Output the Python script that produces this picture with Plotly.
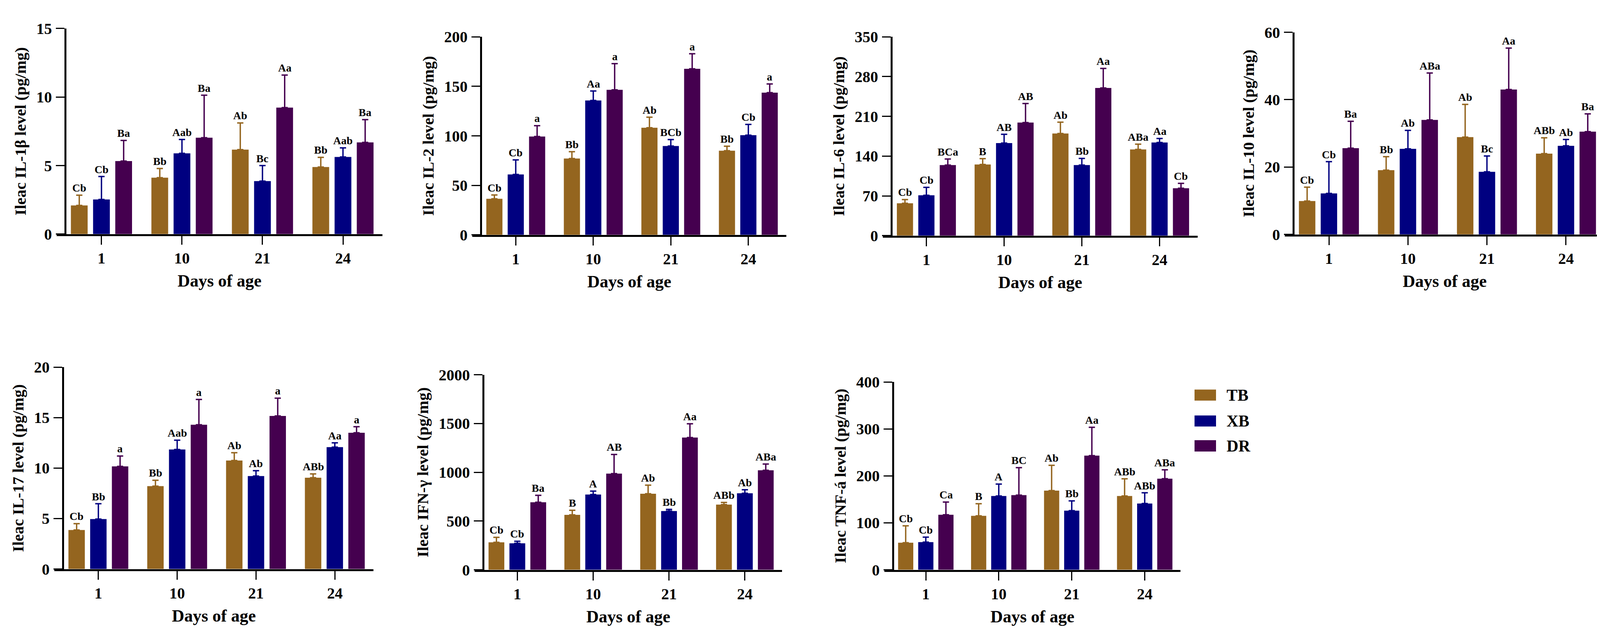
import plotly.graph_objects as go

# ---------------- data ----------------
days = ["1", "10", "21", "24"]
groups = ["TB", "XB", "DR"]
colors = ["#94651F", "#000080", "#45004F"]

titles = [
    "Ileac IL-1β level (pg/mg)",
    "Ileac IL-2 level (pg/mg)",
    "Ileac IL-6 level (pg/mg)",
    "Ileac IL-10 level (pg/mg)",
    "Ileac IL-17 level (pg/mg)",
    "Ileac IFN-γ level (pg/mg)",
    "Ileac TNF-á level (pg/mg)",
]
y_max = [15, 200, 350, 60, 20, 2000, 400]
y_dtick = [5, 50, 70, 20, 5, 500, 100]

# IL-1beta
il1b_tb = [2.09, 4.12, 6.16, 4.89];   il1b_tb_sd = [0.75, 0.67, 1.95, 0.71]
il1b_xb = [2.53, 5.89, 3.87, 5.63];   il1b_xb_sd = [1.67, 1.01, 1.13, 0.66]
il1b_dr = [5.33, 7.03, 9.23, 6.69];   il1b_dr_sd = [1.50, 3.10, 2.37, 1.66]
il1b_lab = [["Cb", "Bb", "Ab", "Bb"], ["Cb", "Aab", "Bc", "Aab"], ["Ba", "Ba", "Aa", "Ba"]]

# IL-2
il2_tb = [36.4, 77.1, 108.2, 85.0];   il2_tb_sd = [3.9, 6.9, 10.6, 4.5]
il2_xb = [61.0, 135.7, 89.7, 100.7];  il2_xb_sd = [14.7, 9.6, 6.5, 10.8]
il2_dr = [99.3, 146.5, 167.7, 143.6]; il2_dr_sd = [11.0, 26.4, 15.2, 8.8]
il2_lab = [["Cb", "Bb", "Ab", "Bb"], ["Cb", "Aa", "BCb", "Cb"], ["a", "a", "a", "a"]]

# IL-6
il6_tb = [57.0, 125.3, 179.8, 151.7]; il6_tb_sd = [6.5, 10.3, 19.9, 9.3]
il6_xb = [71.0, 163.0, 124.2, 164.0]; il6_xb_sd = [14.0, 15.4, 11.7, 7.0]
il6_dr = [124.2, 199.0, 260.0, 83.4]; il6_dr_sd = [10.7, 33.7, 34.4, 8.6]
il6_lab = [["Cb", "B", "Ab", "ABa"], ["Cb", "AB", "Bb", "Aa"], ["BCa", "AB", "Aa", "Cb"]]

# IL-10
il10_tb = [9.94, 19.1, 28.9, 24.0];   il10_tb_sd = [4.1, 4.0, 9.7, 4.7]
il10_xb = [12.2, 25.4, 18.6, 26.3];   il10_xb_sd = [9.4, 5.5, 4.7, 1.9]
il10_dr = [25.6, 34.0, 43.0, 30.5];   il10_dr_sd = [8.0, 13.9, 12.3, 5.3]
il10_lab = [["Cb", "Bb", "Ab", "ABb"], ["Cb", "Ab", "Bc", "Ab"], ["Ba", "ABa", "Aa", "Ba"]]

# IL-17
il17_tb = [3.87, 8.21, 10.75, 9.05];  il17_tb_sd = [0.63, 0.59, 0.78, 0.37]
il17_xb = [4.95, 11.85, 9.21, 12.08]; il17_xb_sd = [1.52, 0.92, 0.53, 0.42]
il17_dr = [10.17, 14.3, 15.17, 13.5]; il17_dr_sd = [1.03, 2.5, 1.76, 0.6]
il17_lab = [["Cb", "Bb", "Ab", "ABb"], ["Bb", "Aab", "Ab", "Aa"], ["a", "a", "a", "a"]]

# IFN-gamma
ifng_tb = [282, 563, 780, 669];       ifng_tb_sd = [51, 47, 88, 22]
ifng_xb = [272, 772, 602, 785];       ifng_xb_sd = [21, 35, 18, 36]
ifng_dr = [693, 986, 1356, 1020];     ifng_dr_sd = [71, 197, 142, 65]
ifng_lab = [["Cb", "B", "Ab", "ABb"], ["Cb", "A", "Bb", "Ab"], ["Ba", "AB", "Aa", "ABa"]]

# TNF-alpha
tnf_tb = [57.7, 115.0, 168.6, 157.2]; tnf_tb_sd = [35.9, 25.8, 53.9, 36.7]
tnf_xb = [59.0, 157.2, 126.0, 141.2]; tnf_xb_sd = [10.5, 25.3, 20.7, 22.8]
tnf_dr = [117.2, 159.0, 243.2, 194.0]; tnf_dr_sd = [27.0, 58.5, 60.3, 19.0]
tnf_lab = [["Cb", "B", "Ab", "ABb"], ["Cb", "A", "Bb", "ABb"], ["Ca", "BC", "Aa", "ABa"]]

means = [
    [il1b_tb, il1b_xb, il1b_dr], [il2_tb, il2_xb, il2_dr], [il6_tb, il6_xb, il6_dr],
    [il10_tb, il10_xb, il10_dr], [il17_tb, il17_xb, il17_dr], [ifng_tb, ifng_xb, ifng_dr],
    [tnf_tb, tnf_xb, tnf_dr],
]
sds = [
    [il1b_tb_sd, il1b_xb_sd, il1b_dr_sd], [il2_tb_sd, il2_xb_sd, il2_dr_sd],
    [il6_tb_sd, il6_xb_sd, il6_dr_sd], [il10_tb_sd, il10_xb_sd, il10_dr_sd],
    [il17_tb_sd, il17_xb_sd, il17_dr_sd], [ifng_tb_sd, ifng_xb_sd, ifng_dr_sd],
    [tnf_tb_sd, tnf_xb_sd, tnf_dr_sd],
]
letters = [il1b_lab, il2_lab, il6_lab, il10_lab, il17_lab, ifng_lab, tnf_lab]

# ---------------- layout geometry (pixels) ----------------
W, H = 4132, 1632
# (y-axis x, x-axis right end, y of top tick, y of zero)
boxes = [
    (159, 971, 44, 585), (1223, 2005, 66, 587), (2274, 3058, 66, 589), (3303, 4100, 54, 586),
    (153, 948, 935, 1466), (1229, 1994, 955, 1468), (2278, 3014, 974, 1468),
]
XR0, XR1 = -0.45, 3.49
TICKLEN = 22
BARGAP, GROUPGAP = 0.173, 0.245
FONT = "Liberation Serif, Times New Roman, serif"

fig = go.Figure()
layout = {}
annotations = []

for p in range(7):
    n = p + 1
    xa, ya = ("x" if n == 1 else f"x{n}"), ("y" if n == 1 else f"y{n}")
    L, R, top, zero = boxes[p]
    px_per_cat = (R - L) / (XR1 - XR0)
    for k in range(3):
        fig.add_trace(go.Bar(
            x=[0, 1, 2, 3], y=means[p][k], name=groups[k],
            marker=dict(color=colors[k], line=dict(width=0)),
            error_y=dict(type="data", symmetric=False, array=sds[p][k], arrayminus=[0] * 4,
                         color=colors[k], thickness=3.5, width=8),
            xaxis=xa, yaxis=ya, showlegend=False,
        ))
        slot = (1 - BARGAP) / 3
        for i in range(4):
            annotations.append(dict(
                x=i + (k - 1) * slot, y=means[p][k][i] + sds[p][k][i],
                xref=xa, yref=ya, text=letters[p][k][i], showarrow=False,
                yanchor="bottom", yshift=1,
                font=dict(family=FONT, size=28, color="black", weight="bold"),
            ))
    layout["xaxis" if n == 1 else f"xaxis{n}"] = dict(
        domain=[(L - TICKLEN) / W, R / W],
        range=[XR0 - TICKLEN / px_per_cat, XR1],
        anchor=ya, showline=True, linewidth=5, linecolor="black",
        ticks="outside", ticklen=TICKLEN, tickwidth=3, tickcolor="black",
        tickvals=[0, 1, 2, 3], ticktext=days, ticklabelstandoff=0,
        tickfont=dict(family=FONT, size=40, color="black", weight="bold"),
        showgrid=False, zeroline=False, fixedrange=True,
        title=dict(text="Days of age", standoff=22,
                   font=dict(family=FONT, size=44, color="black", weight="bold")),
    )
    layout["yaxis" if n == 1 else f"yaxis{n}"] = dict(
        domain=[1 - zero / H, 1 - top / H], range=[0, y_max[p]],
        anchor="free", position=L / W, showline=True, linewidth=5, linecolor="black",
        ticks="outside", ticklen=TICKLEN, tickwidth=3, tickcolor="black",
        dtick=y_dtick[p], tick0=0, ticklabelstandoff=2,
        tickfont=dict(family=FONT, size=40, color="black", weight="bold"),
        showgrid=False, zeroline=False, fixedrange=True,
        title=dict(text=titles[p], standoff=12,
                   font=dict(family=FONT, size=41, color="black", weight="bold")),
    )

# custom legend (swatches + labels)
shapes = []
leg_x0, leg_x1, leg_text_x = 3050, 3105, 3130
leg_rows = [(994, 1023), (1062, 1091), (1127, 1157)]
for k in range(3):
    y0, y1 = leg_rows[k]
    shapes.append(dict(type="rect", xref="paper", yref="paper",
                       x0=leg_x0 / W, x1=leg_x1 / W, y0=1 - y1 / H, y1=1 - y0 / H,
                       fillcolor=colors[k], line=dict(width=0)))
    annotations.append(dict(x=leg_text_x / W, y=1 - (y0 + y1) / 2 / H, xref="paper", yref="paper",
                            text=groups[k], showarrow=False, xanchor="left", yanchor="middle",
                            font=dict(family=FONT, size=42, color="black", weight="bold")))

fig.update_layout(
    width=W, height=H, margin=dict(l=0, r=0, t=0, b=0),
    paper_bgcolor="white", plot_bgcolor="white",
    barmode="group", bargap=BARGAP, bargroupgap=GROUPGAP,
    font=dict(family=FONT, color="black"),
    annotations=annotations, shapes=shapes, showlegend=False,
    **layout,
)

fig.write_html("out.html")
